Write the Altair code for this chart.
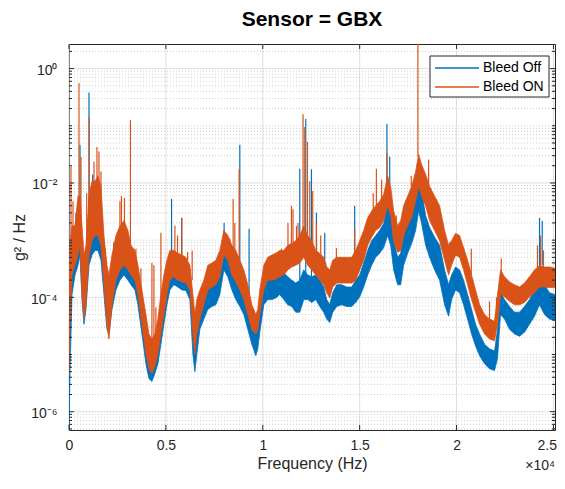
import altair as alt
import pandas as pd

# ---------------- data ----------------
# frequency grid (Hz) for the noise-band envelopes
freq = [0, 52, 155, 309, 464, 567, 670, 773, 876, 1031,
        1186, 1340, 1495, 1650, 1804, 1959, 2062, 2217, 2423, 2629,
        2835, 3041, 3196, 3402, 3557, 3763, 3969, 4124, 4279, 4433,
        4588, 4743, 4897, 5052, 5207, 5413, 5619, 5825, 6031, 6238,
        6392, 6495, 6598, 6753, 6959, 7165, 7372, 7578, 7784, 7990,
        8196, 8403, 8609, 8815, 9021, 9227, 9434, 9640, 9743, 9846,
        10052, 10258, 10465, 10671, 10877, 11083, 11289, 11496, 11702, 11908,
        12114, 12320, 12527, 12733, 12939, 13145, 13300, 13455, 13609, 13815,
        14073, 14331, 14589, 14795, 15001, 15207, 15413, 15620, 15826, 16032,
        16238, 16444, 16599, 16754, 16960, 17115, 17269, 17475, 17682, 17888,
        18043, 18197, 18404, 18610, 18867, 19125, 19383, 19589, 19743, 19950,
        20156, 20362, 20568, 20774, 20981, 21187, 21444, 21702, 21960, 22114,
        22269, 22475, 22733, 22991, 23249, 23506, 23764, 24022, 24281, 24538,
        24796, 25053, 25311, 25500]

# log10(g^2/Hz) band envelopes, Bleed ON (orange)
on_hi_log = [-4.47, -3.09, -2.75, -2.75, -2.23, -2.23, -2.75, -3.26, -3.09, -2.23,
             -1.97, -1.97, -1.88, -2.06, -2.92, -3.44, -3.61, -3.26, -2.92, -2.75,
             -2.66, -2.83, -3.09, -3.18, -3.44, -3.87, -4.30, -4.64, -4.73, -4.64,
             -4.38, -3.95, -3.61, -3.35, -3.18, -3.18, -3.23, -3.26, -3.30, -3.44,
             -3.95, -4.30, -4.04, -3.87, -3.70, -3.44, -3.40, -3.35, -3.18, -2.83,
             -2.92, -3.09, -3.18, -3.35, -3.52, -3.78, -4.13, -4.30, -4.21, -3.87,
             -3.44, -3.30, -3.26, -3.23, -3.18, -3.18, -3.09, -3.06, -3.01, -2.92,
             -2.75, -2.92, -3.01, -3.18, -3.23, -3.30, -3.47, -3.52, -3.35, -3.30,
             -3.30, -3.30, -3.30, -3.18, -3.01, -2.83, -2.61, -2.49, -2.40, -2.32,
             -2.20, -1.88, -2.06, -2.49, -2.75, -2.66, -2.40, -2.23, -2.06, -1.80,
             -1.50, -1.68, -1.85, -2.06, -2.23, -2.40, -2.83, -3.09, -3.01, -2.88,
             -2.92, -3.13, -3.35, -3.61, -3.87, -4.13, -4.30, -4.38, -4.42, -3.95,
             -3.52, -3.64, -3.73, -3.78, -3.82, -3.75, -3.64, -3.52, -3.44, -3.47,
             -3.47, -3.49, -3.47, -3.44]
on_lo_log = [-5.33, -4.47, -3.61, -3.44, -3.26, -3.09, -3.95, -4.38, -4.13, -3.26,
             -3.01, -2.92, -2.92, -3.09, -3.78, -4.47, -4.73, -4.13, -3.70, -3.52,
             -3.44, -3.52, -3.61, -3.70, -3.95, -4.47, -4.99, -5.25, -5.33, -5.20,
             -4.99, -4.64, -4.30, -3.95, -3.70, -3.64, -3.70, -3.73, -3.75, -3.87,
             -4.64, -4.99, -4.64, -4.38, -4.13, -3.87, -3.82, -3.78, -3.64, -3.26,
             -3.35, -3.61, -3.73, -3.87, -4.04, -4.30, -4.56, -4.64, -4.56, -4.30,
             -3.87, -3.70, -3.70, -3.68, -3.64, -3.61, -3.52, -3.47, -3.44, -3.40,
             -3.30, -3.44, -3.52, -3.61, -3.70, -3.78, -3.92, -4.01, -3.82, -3.75,
             -3.75, -3.75, -3.75, -3.70, -3.52, -3.35, -3.09, -2.95, -2.83, -2.78,
             -2.66, -2.40, -2.57, -3.01, -3.21, -3.18, -2.92, -2.75, -2.61, -2.32,
             -2.06, -2.23, -2.40, -2.66, -2.83, -3.01, -3.35, -3.61, -3.44, -3.26,
             -3.30, -3.52, -3.78, -4.04, -4.26, -4.47, -4.64, -4.73, -4.76, -4.47,
             -3.95, -3.99, -4.07, -4.13, -4.13, -4.09, -3.99, -3.92, -3.82, -3.82,
             -3.83, -3.83, -3.82, -3.82]

# log10(g^2/Hz) band envelopes, Bleed Off (blue)
off_hi_log = [-5.68, -3.95, -3.09, -2.92, -2.57, -2.49, -3.09, -3.44, -3.26, -2.49,
              -2.32, -2.32, -2.23, -2.40, -3.09, -3.52, -3.70, -3.44, -3.09, -2.92,
              -2.83, -3.01, -3.18, -3.26, -3.52, -3.95, -4.47, -4.82, -4.90, -4.82,
              -4.56, -4.13, -3.78, -3.52, -3.30, -3.26, -3.30, -3.35, -3.40, -3.52,
              -4.30, -4.64, -4.30, -4.04, -3.87, -3.70, -3.70, -3.61, -3.47, -3.09,
              -3.18, -3.40, -3.52, -3.70, -3.82, -4.04, -4.38, -4.64, -4.56, -4.21,
              -3.70, -3.61, -3.61, -3.57, -3.52, -3.57, -3.64, -3.70, -3.75, -3.70,
              -3.52, -3.61, -3.64, -3.61, -3.70, -3.82, -4.04, -4.13, -3.92, -3.78,
              -3.78, -3.82, -3.82, -3.70, -3.61, -3.40, -3.18, -3.01, -2.92, -2.83,
              -2.71, -2.32, -2.49, -3.01, -3.30, -3.23, -2.92, -2.66, -2.49, -2.23,
              -1.88, -2.14, -2.57, -2.78, -2.95, -3.09, -3.52, -3.78, -3.61, -3.47,
              -3.52, -3.70, -3.95, -4.21, -4.47, -4.64, -4.82, -4.90, -4.94, -4.56,
              -3.92, -4.04, -4.16, -4.26, -4.26, -4.16, -4.04, -3.87, -3.44, -3.78,
              -3.92, -3.95, -3.92, -3.92]
off_lo_log = [-6.32, -5.33, -3.95, -3.61, -3.44, -3.26, -4.04, -4.47, -4.21, -3.44,
              -3.26, -3.18, -3.18, -3.35, -3.95, -4.56, -4.64, -4.21, -3.87, -3.70,
              -3.61, -3.70, -3.78, -3.87, -4.13, -4.64, -5.16, -5.42, -5.47, -5.33,
              -5.16, -4.82, -4.47, -4.13, -3.87, -3.78, -3.82, -3.87, -3.88, -4.04,
              -4.99, -5.30, -4.99, -4.56, -4.38, -4.21, -4.16, -4.13, -3.95, -3.52,
              -3.64, -3.87, -4.04, -4.16, -4.30, -4.56, -4.82, -5.02, -4.90, -4.61,
              -4.13, -4.04, -4.04, -4.01, -3.95, -4.04, -4.13, -4.16, -4.26, -4.26,
              -4.04, -4.04, -4.09, -4.04, -4.16, -4.26, -4.38, -4.44, -4.26, -4.16,
              -4.13, -4.16, -4.16, -4.09, -3.99, -3.82, -3.61, -3.44, -3.30, -3.23,
              -3.13, -2.92, -3.09, -3.52, -3.78, -3.78, -3.44, -3.23, -3.06, -2.83,
              -2.49, -2.71, -3.09, -3.30, -3.52, -3.70, -4.13, -4.33, -4.04, -3.87,
              -3.92, -4.13, -4.38, -4.64, -4.85, -5.02, -5.16, -5.25, -5.28, -5.07,
              -4.30, -4.38, -4.56, -4.64, -4.68, -4.61, -4.47, -4.33, -4.13, -4.30,
              -4.38, -4.40, -4.37, -4.37]

# narrow spectral peaks (Hz, log10 peak, log10 foot)
on_spike_f = [103, 516, 619, 1046, 1134, 1289, 1443, 1547, 1650, 2629,
              2706, 2861, 3170, 4279, 4382, 4743, 5464, 5825, 6356, 8470,
              8557, 8779, 11480, 11738, 12078, 12166, 12305, 12424, 12578, 12769,
              12990, 13800, 14743, 15862, 16135, 16408, 18006, 18558, 21702, 22063,
              22305, 24177, 24332, 24486,
              206, 912, 1871, 2304, 3454, 3712, 4485, 5000, 5600, 6120,
              8300, 10960, 11300, 11560, 11820, 15700, 16890, 17660, 19640, 20760]
on_spike_peak = [-1.71, -0.25, -1.54, -0.85, -2.06, -1.63, -1.37, -1.45, -1.80, -2.32,
                 -2.23, -2.26, -0.90, -3.40, -3.44, -2.87, -2.75, -2.61, -3.18, -2.28,
                 -2.70, -1.76, -2.40, -2.75, -0.80, -1.02, -1.28, -1.97, -2.14, -2.70,
                 -2.92, -3.14, -2.80, -1.75, -1.94, -1.49, 0.43, -1.59, -4.07, -4.00,
                 -3.32, -3.09, -2.92, -3.18,
                 -2.32, -2.18, -3.15, -3.04, -3.15, -3.49, -4.18, -3.83, -2.92, -3.21,
                 -2.97, -3.15, -2.70, -2.46, -2.70, -2.18, -2.57, -1.88, -3.04, -3.15]
on_spike_base = [-3.26, -2.57, -2.92, -2.40, -2.75, -2.49, -2.40, -2.40, -2.57, -3.01,
                 -2.92, -2.92, -3.18, -4.82, -4.73, -4.13, -3.35, -3.35, -3.70, -3.18,
                 -3.26, -3.35, -3.09, -3.09, -2.83, -2.92, -3.01, -3.01, -3.09, -3.23,
                 -3.26, -3.35, -3.23, -2.43, -2.32, -1.97, -1.54, -2.06, -4.42, -4.44,
                 -3.57, -3.47, -3.44, -3.47,
                 -2.90, -3.20, -3.80, -3.50, -3.50, -3.90, -4.64, -4.10, -3.23, -3.35,
                 -3.35, -3.55, -3.09, -3.06, -3.00, -2.49, -2.75, -2.06, -3.10, -3.61]

off_spike_f = [361, 567, 1031, 1222, 5294, 5810, 8005, 8815, 9294, 11908,
               12217, 12511, 12769, 13197, 14743, 16408, 16550, 24281, 24419]
off_spike_peak = [-2.52, -1.33, -0.42, -1.85, -2.28, -2.61, -2.70, -1.33, -2.80, -1.75,
                  -0.88, -1.76, -2.52, -2.87, -2.40, -0.97, -1.54, -2.61, -2.66]
off_spike_base = [-3.01, -2.49, -2.49, -2.32, -3.30, -3.35, -3.09, -3.70, -4.04, -3.70,
                  -3.61, -3.64, -3.61, -3.82, -3.70, -2.32, -2.50, -3.44, -3.44]

series_names = ["Bleed Off", "Bleed ON"]
series_colors = ["#0072BD", "#D95319"]

x_tick_values = [0, 5000, 10000, 15000, 20000, 25000]
y_label_values = [1e-6, 1e-4, 1e-2, 1e0]

# ---------------- layout / styles ----------------
W, H = 486, 386
PAD = {"left": 61, "top": 36, "right": 2, "bottom": 44}
XMAX = 25080
YMIN, YMAX = 10 ** -6.32, 10 ** 0.43
FONT = "Liberation Sans"
DARK = "#262626"


def lin(a):
    return [10 ** v for v in a]


band = pd.DataFrame({"f": freq,
                     "on_hi": lin(on_hi_log), "on_lo": lin(on_lo_log),
                     "off_hi": lin(off_hi_log), "off_lo": lin(off_lo_log)})
on_sp = pd.DataFrame({"f": on_spike_f, "peak": lin(on_spike_peak), "base": lin(on_spike_base)})
off_sp = pd.DataFrame({"f": off_spike_f, "peak": lin(off_spike_peak), "base": lin(off_spike_base)})

minor_y = [m * 10.0 ** k for k in range(-7, 1) for m in range(1, 10)
           if YMIN <= m * 10.0 ** k <= YMAX and not (m == 1 and k % 2 == 0)]
major_df = pd.DataFrame({"v": y_label_values})
minor_df = pd.DataFrame({"v": minor_y})
xg_df = pd.DataFrame({"f": x_tick_values})

xs = alt.Scale(domain=[0, XMAX], nice=False, zero=False)
ys = alt.Scale(type="log", domain=[YMIN, YMAX], nice=False)

last_x = "datum.value == 25000"
x_axis = alt.Axis(values=x_tick_values, labelExpr="'' + datum.value / 10000",
                  title="Frequency (Hz)", grid=False, ticks=False, tickSize=0, domain=False,
                  labelFont=FONT, labelFontSize=14, labelColor=DARK, labelPadding=8,
                  labelAlign={"condition": {"test": last_x, "value": "right"}, "value": "center"},
                  labelOffset={"condition": {"test": last_x, "value": 3}, "value": 0},
                  titleFont=FONT, titleFontSize=16, titleFontWeight="normal",
                  titleColor=DARK, titlePadding=3, labelFlush=False)
y_axis = alt.Axis(values=y_label_values,
                  labelExpr="'10' + replace(replace(replace(replace(replace(replace('' + round(log(datum.value) / LN10), '-', '⁻'), '0', '⁰'), '2', '²'), '4', '⁴'), '6', '⁶'), '8', '⁸')",
                  title="g² / Hz", grid=False, ticks=False, tickSize=0, domain=False,
                  labelFont=FONT, labelFontSize=14, labelColor=DARK, labelPadding=12,
                  labelOffset=2, labelOverlap=False, labelFlush=False,
                  titleFont=FONT, titleFontSize=16, titleFontWeight="normal",
                  titleColor=DARK, titlePadding=3)


def X(field):
    return alt.X(field, type="quantitative", scale=xs, axis=x_axis)


def Y(field):
    return alt.Y(field, type="quantitative", scale=ys, axis=y_axis)


grid_x = alt.Chart(xg_df).mark_rule(color="#dfdfdf", strokeWidth=1).encode(x=X("f"))
grid_y_major = alt.Chart(major_df).mark_rule(color="#dfdfdf", strokeWidth=1).encode(y=Y("v"))
grid_y_minor = alt.Chart(minor_df).mark_rule(color="#c4c4c4", strokeWidth=0.8,
                                             strokeDash=[1, 2]).encode(y=Y("v"))

off_band = alt.Chart(band).mark_area(color=series_colors[0], stroke=series_colors[0],
                                     strokeWidth=0.8, clip=True).encode(
    x=X("f"), y=Y("off_hi"), y2="off_lo:Q")
off_spikes = alt.Chart(off_sp).mark_rule(color=series_colors[0], strokeWidth=1.2,
                                         clip=True).encode(
    x=X("f"), y=Y("peak"), y2="base:Q")
on_band = alt.Chart(band).mark_area(color=series_colors[1], stroke=series_colors[1],
                                    strokeWidth=0.8, clip=True).encode(
    x=X("f"), y=Y("on_hi"), y2="on_lo:Q")
on_spikes = alt.Chart(on_sp).mark_rule(color=series_colors[1], strokeWidth=1.2,
                                       clip=True).encode(
    x=X("f"), y=Y("peak"), y2="base:Q")

# inward tick marks on all four sides
tk = dict(color=DARK, strokeWidth=1)
ticks = [
    alt.Chart(major_df).mark_rule(**tk).encode(y=Y("v"), x=alt.value(0), x2=alt.value(5)),
    alt.Chart(major_df).mark_rule(**tk).encode(y=Y("v"), x=alt.value(W - 5), x2=alt.value(W)),
    alt.Chart(minor_df).mark_rule(**tk).encode(y=Y("v"), x=alt.value(0), x2=alt.value(3)),
    alt.Chart(minor_df).mark_rule(**tk).encode(y=Y("v"), x=alt.value(W - 3), x2=alt.value(W)),
    alt.Chart(xg_df).mark_rule(**tk).encode(x=X("f"), y=alt.value(H), y2=alt.value(H - 5)),
    alt.Chart(xg_df).mark_rule(**tk).encode(x=X("f"), y=alt.value(0), y2=alt.value(5)),
]

one = pd.DataFrame({"k": [0]})

# legend box (top right, inside the axes)
LX0, LX1, LY0, LY1 = 361, 480, 12, 53
legend_box = alt.Chart(one).mark_rect(fill="white", stroke=DARK, strokeWidth=1).encode(
    x=alt.value(LX0), x2=alt.value(LX1), y=alt.value(LY0), y2=alt.value(LY1))
legend_layers = [legend_box]
for i, (name, col) in enumerate(zip(series_names, series_colors)):
    ry = LY0 + 12 + i * 19
    legend_layers.append(alt.Chart(one).mark_rule(color=col, strokeWidth=1.5).encode(
        x=alt.value(LX0 + 5), x2=alt.value(LX0 + 49), y=alt.value(ry)))
    legend_layers.append(alt.Chart(pd.DataFrame({"t": [name]})).mark_text(
        align="left", baseline="middle", font=FONT, fontSize=14, color="#000000").encode(
        text="t:N", x=alt.value(LX0 + 53), y=alt.value(ry)))

exp_label = alt.Chart(pd.DataFrame({"t": ["×10⁴"]})).mark_text(
    align="right", baseline="alphabetic", font=FONT, fontSize=14, color=DARK).encode(
    text="t:N", x=alt.value(W), y=alt.value(H + 40))

title = alt.Chart(pd.DataFrame({"t": ["Sensor = GBX"]})).mark_text(
    align="center", baseline="alphabetic", font=FONT, fontSize=21, fontWeight="bold",
    color="#000000").encode(text="t:N", x=alt.value(W / 2), y=alt.value(-18))

chart = alt.layer(grid_x, grid_y_major, grid_y_minor, off_band, off_spikes,
                  on_band, on_spikes, *ticks, *legend_layers, exp_label, title).properties(
    width=W, height=H,
    autosize=alt.AutoSizeParams(type="none"),
    padding=PAD,
).configure_view(stroke=DARK, strokeWidth=1)

chart.save("out.html", embed_options={"renderer": "svg", "actions": False})
